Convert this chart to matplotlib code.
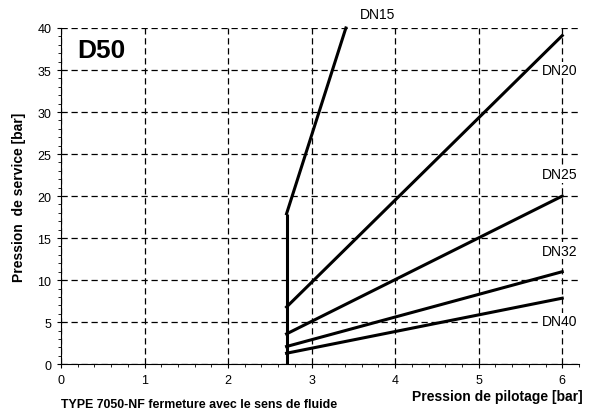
import numpy as np
import matplotlib
matplotlib.use("Agg")
import matplotlib.pyplot as plt
from matplotlib.ticker import MultipleLocator

plt.rcParams['font.family'] = ['Liberation Sans', 'DejaVu Sans']

# pilot pressure where valve starts to open
x_open = 2.7
# curves: name -> (pilot pressure pts, service pressure pts)
series_names = ['DN15', 'DN20', 'DN25', 'DN32', 'DN40']
series_x = [[2.7, 3.41], [2.7, 6.0], [2.7, 6.0], [2.7, 6.0], [2.7, 6.0]]
series_y = [[17.9, 40.0], [6.8, 39.1], [3.6, 20.0], [2.1, 11.0], [1.3, 7.85]]
label_pos = [(3.79, 41.7), (5.97, 35.0), (5.97, 22.6), (5.97, 13.5), (5.97, 5.1)]
vertical_top = 17.9

fig = plt.figure(figsize=(5.92, 4.14), dpi=100)
ax = fig.add_axes([0.103, 0.118, 0.875, 0.812])

ax.set_xlim(0, 6.2)
ax.set_ylim(0, 40)
ax.xaxis.set_major_locator(MultipleLocator(1))
ax.xaxis.set_minor_locator(MultipleLocator(0.2))
ax.yaxis.set_major_locator(MultipleLocator(5))
ax.yaxis.set_minor_locator(MultipleLocator(1))
ax.grid(True, which='major', color='black', linestyle=(0, (5, 3)), linewidth=0.9)
ax.set_axisbelow(True)
for s in ['top', 'right']:
    ax.spines[s].set_visible(False)
ax.tick_params(which='major', length=3, labelsize=9, direction='out', pad=4)
ax.tick_params(which='minor', length=2)

ax.plot([x_open, x_open], [0, vertical_top], color='black', lw=2.2, solid_capstyle='butt', clip_on=False)
for xs, ys in zip(series_x, series_y):
    ax.plot(xs, ys, color='black', lw=2.2, clip_on=False)

for name, (lx, ly) in zip(series_names, label_pos):
    ax.text(lx, ly, name, ha='center', va='center', fontsize=10,
            bbox=dict(facecolor='white', edgecolor='none', pad=1), clip_on=False)

ax.text(0.19, 37.4, 'D50', fontsize=19, fontweight='bold', ha='left', va='center')

ax.set_ylabel('Pression  de service [bar]', fontsize=10, fontweight='bold', labelpad=8)
fig.text(0.985, 0.041, 'Pression de pilotage [bar]', fontsize=10, fontweight='bold', ha='right', va='center')
fig.text(0.103, 0.022, 'TYPE 7050-NF fermeture avec le sens de fluide', fontsize=8.9,
         fontweight='bold', ha='left', va='center')

fig.savefig('out.png', dpi=100)
